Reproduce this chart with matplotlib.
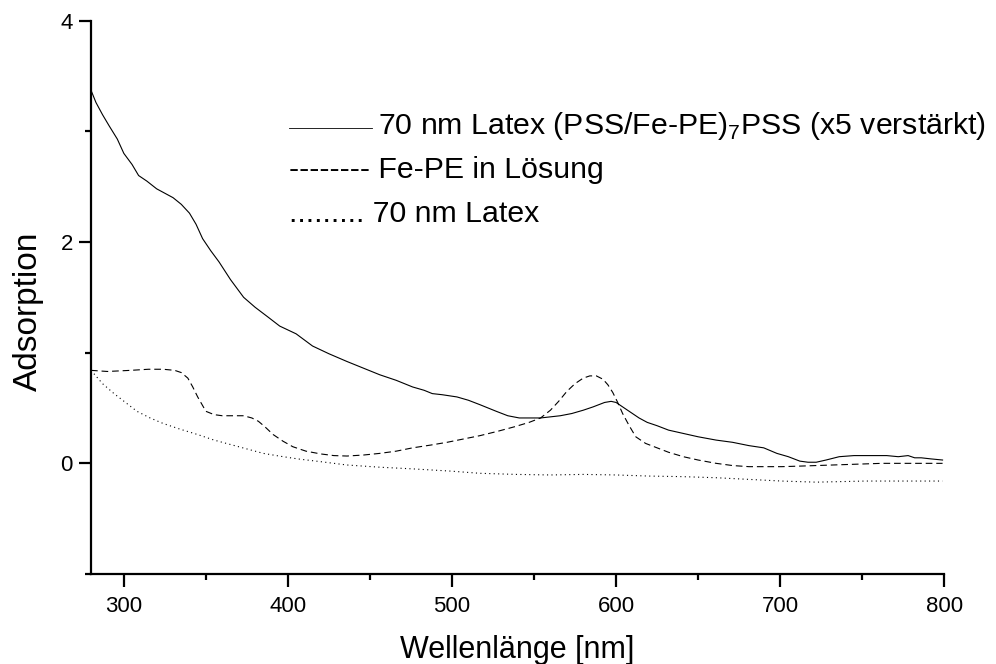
import matplotlib
matplotlib.use("Agg")
import matplotlib.pyplot as plt
from matplotlib.lines import Line2D
from matplotlib.ticker import MultipleLocator

plt.rcParams['font.family'] = ['Liberation Sans', 'DejaVu Sans']

# Solid: 70 nm Latex (PSS/Fe-PE)7PSS (x5 verstärkt)
x_solid = [280, 283, 287, 291, 296, 300, 305, 309, 314, 320, 325, 330, 335, 340, 344, 348, 353, 358,
           365, 373, 380, 388, 395, 405, 415, 425, 436, 446, 456, 466, 476, 483, 488, 494, 503, 510,
           517, 527, 534, 541, 548, 554, 560, 566, 573, 580, 586, 593, 597, 600, 607, 614, 619, 625,
           632, 641, 650, 661, 671, 681, 690, 698, 705, 712, 717, 722, 728, 736, 745, 756, 765, 772,
           778, 782, 786, 792, 799]
y_solid = [3.37, 3.26, 3.15, 3.05, 2.93, 2.80, 2.70, 2.60, 2.55, 2.48, 2.44, 2.40, 2.34, 2.26, 2.16,
           2.03, 1.92, 1.82, 1.66, 1.50, 1.41, 1.32, 1.24, 1.17, 1.06, 0.99, 0.92, 0.86, 0.80, 0.75,
           0.69, 0.66, 0.63, 0.62, 0.60, 0.57, 0.53, 0.47, 0.43, 0.41, 0.41, 0.41, 0.42, 0.43, 0.45,
           0.48, 0.51, 0.55, 0.56, 0.55, 0.48, 0.41, 0.37, 0.34, 0.30, 0.27, 0.24, 0.21, 0.19, 0.16,
           0.14, 0.09, 0.06, 0.02, 0.01, 0.01, 0.03, 0.06, 0.07, 0.07, 0.07, 0.06, 0.07, 0.05, 0.05,
           0.04, 0.03]

# Dashed: Fe-PE in Lösung
x_dash = [280, 290, 304, 315, 324, 331, 335, 339, 342, 345, 350, 355, 360, 366, 373, 378, 382, 386,
          391, 397, 403, 411, 420, 428, 436, 446, 456, 466, 476, 487, 497, 507, 517, 528, 538, 547,
          554, 560, 565, 570, 575, 580, 584, 588, 592, 595, 598, 601, 604, 608, 612, 618, 625, 632,
          641, 650, 661, 671, 681, 691, 701, 712, 722, 742, 762, 780, 799]
y_dash = [0.84, 0.83, 0.84, 0.85, 0.85, 0.84, 0.82, 0.77, 0.69, 0.60, 0.47, 0.44, 0.43, 0.43, 0.43,
          0.41, 0.38, 0.33, 0.26, 0.20, 0.15, 0.11, 0.085, 0.07, 0.066, 0.075, 0.09, 0.11, 0.14,
          0.165, 0.19, 0.22, 0.25, 0.29, 0.33, 0.37, 0.41, 0.48, 0.56, 0.65, 0.72, 0.77, 0.79, 0.79,
          0.76, 0.71, 0.64, 0.55, 0.45, 0.34, 0.24, 0.18, 0.14, 0.10, 0.06, 0.03, 0.00, -0.02,
          -0.03, -0.03, -0.03, -0.025, -0.02, -0.01, 0.00, 0.00, 0.00]

# Dotted: 70 nm Latex
x_dot = [280, 287, 294, 301, 308, 316, 324, 334, 345, 355, 365, 375, 385, 395, 406, 420, 436, 456,
         476, 499, 517, 539, 560, 580, 600, 620, 640, 661, 681, 701, 722, 737, 752, 775, 799]
y_dot = [0.84, 0.72, 0.63, 0.55, 0.47, 0.41, 0.36, 0.31, 0.26, 0.21, 0.17, 0.13, 0.09, 0.065, 0.04,
         0.015, -0.015, -0.035, -0.05, -0.07, -0.09, -0.10, -0.105, -0.10, -0.105, -0.115, -0.12,
         -0.13, -0.145, -0.16, -0.17, -0.165, -0.16, -0.16, -0.16]

fig = plt.figure(figsize=(9.96, 6.64), dpi=100)
ax = fig.add_axes([0.0914, 0.1355, 0.8566, 0.8335])

ax.plot(x_solid, y_solid, color='black', lw=0.8, ls='-')
ax.plot(x_dash, y_dash, color='black', lw=0.8, ls=(0, (6, 3.5)))
ax.plot(x_dot, y_dot, color='black', lw=0.8, ls=(0, (1, 3)))

ax.set_xlim(280, 800)
ax.set_ylim(-1, 4)
ax.xaxis.set_major_locator(MultipleLocator(100))
ax.xaxis.set_minor_locator(MultipleLocator(50))
ax.yaxis.set_major_locator(MultipleLocator(2))
ax.yaxis.set_minor_locator(MultipleLocator(1))
for s in ['top', 'right']:
    ax.spines[s].set_visible(False)
for s in ['left', 'bottom']:
    ax.spines[s].set_linewidth(1.6)
ax.tick_params(which='major', direction='out', length=9, width=1.6, labelsize=16, pad=4)
ax.tick_params(axis='x', which='major', pad=7)
ax.tick_params(which='minor', direction='out', length=4.5, width=1.6)

ax.set_xlabel('Wellenlänge [nm]', fontsize=22)
ax.set_ylabel('Adsorption', fontsize=24)
ax.xaxis.set_label_coords(0.5, -0.152)
ax.yaxis.set_label_coords(-0.055, 0.474)
ax.xaxis.label.set_va('baseline')

# Legend drawn as text (as in the original)
fs = 21.8
ax.add_line(Line2D([0.232, 0.329], [0.8065, 0.8065], transform=ax.transAxes,
                   color='black', lw=0.6, clip_on=False))
ax.text(0.3365, 0.7957, r'70 nm Latex (PSS/Fe-PE)$_\mathregular{7}$PSS (x5 verstärkt)',
        transform=ax.transAxes, fontsize=fs, va='baseline', ha='left')
ax.text(0.232, 0.7161, '-------- Fe-PE in Lösung', transform=ax.transAxes,
        fontsize=fs, va='baseline', ha='left')
ax.text(0.232, 0.6365, '......... 70 nm Latex', transform=ax.transAxes,
        fontsize=fs, va='baseline', ha='left')

fig.savefig('out.png', dpi=100)
